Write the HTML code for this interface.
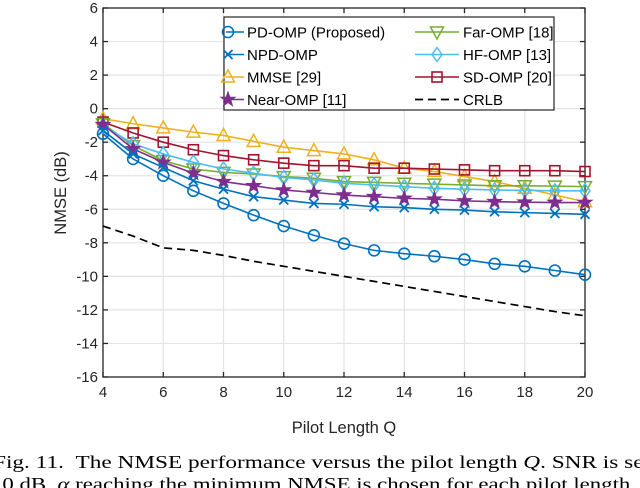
<!DOCTYPE html>
<html><head><meta charset="utf-8"><style>
html,body{margin:0;padding:0;background:#fff;width:640px;height:488px;overflow:hidden}
svg{display:block}
text{font-family:"Liberation Sans",sans-serif}
.cap{font-family:"Liberation Serif",serif;font-size:17.5px}
</style></head><body>
<svg id="chart" width="640" height="488" viewBox="0 0 640 488"></svg>
<script>
const qValues=[4,5,6,7,8,9,10,11,12,13,14,15,16,17,18,19,20];
const pdOmp=[-1.5,-3.0,-4.0,-4.9,-5.65,-6.35,-7.0,-7.55,-8.05,-8.45,-8.65,-8.8,-9.0,-9.25,-9.4,-9.65,-9.9];
const npdOmp=[-1.3,-2.7,-3.5,-4.3,-4.8,-5.25,-5.45,-5.65,-5.7,-5.85,-5.9,-6.0,-6.05,-6.15,-6.2,-6.25,-6.3];
const mmse=[-0.6,-0.9,-1.15,-1.4,-1.6,-1.95,-2.3,-2.5,-2.7,-3.05,-3.55,-3.75,-4.05,-4.35,-4.75,-5.15,-5.55];
const nearOmp=[-0.95,-2.4,-3.2,-3.85,-4.35,-4.6,-4.85,-5.0,-5.15,-5.25,-5.35,-5.4,-5.5,-5.55,-5.58,-5.6,-5.6];
const farOmp=[-0.9,-2.2,-3.1,-3.6,-3.8,-3.9,-4.05,-4.15,-4.35,-4.4,-4.45,-4.5,-4.55,-4.6,-4.6,-4.62,-4.65];
const hfOmp=[-1.0,-2.1,-2.7,-3.2,-3.6,-3.85,-4.1,-4.25,-4.45,-4.55,-4.65,-4.75,-4.8,-4.85,-4.87,-4.9,-4.9];
const sdOmp=[-0.8,-1.45,-2.0,-2.45,-2.8,-3.05,-3.25,-3.4,-3.4,-3.55,-3.55,-3.6,-3.65,-3.7,-3.7,-3.7,-3.75];
const crlb=[-7.0,-7.6,-8.3,-8.45,-8.75,-9.1,-9.4,-9.7,-10.0,-10.3,-10.6,-10.9,-11.2,-11.5,-11.8,-12.1,-12.35];
const xTicks=[4,6,8,10,12,14,16,18,20];
const yTicks=[6,4,2,0,-2,-4,-6,-8,-10,-12,-14,-16];

const NS="http://www.w3.org/2000/svg";
const svg=document.getElementById('chart');
const L=103,R=585,T=8,B=377;
const xS=q=>L+(q-4)/(20-4)*(R-L);
const yS=v=>T+(6-v)/(22)*(B-T);
function mk(tag,attrs,parent){const e=document.createElementNS(NS,tag);for(const k in attrs)e.setAttribute(k,attrs[k]);(parent||svg).appendChild(e);return e;}

const grid=mk('g',{});


xTicks.forEach(q=>mk('line',{x1:xS(q),x2:xS(q),y1:T,y2:B,stroke:'#e3e3e3','stroke-width':1.2},grid));
yTicks.forEach(v=>mk('line',{x1:L,x2:R,y1:yS(v),y2:yS(v),stroke:'#e3e3e3','stroke-width':1.2},grid));

const ax=mk('g',{});


mk('rect',{x:L,y:T,width:R-L,height:B-T,fill:'none',stroke:'#262626','stroke-width':1.3},ax);
xTicks.forEach(q=>{
  mk('line',{x1:xS(q),x2:xS(q),y1:B,y2:B-5,stroke:'#262626','stroke-width':1.3},ax);
  mk('line',{x1:xS(q),x2:xS(q),y1:T,y2:T+5,stroke:'#262626','stroke-width':1.3},ax);
  const t=mk('text',{x:xS(q),y:B+20,'text-anchor':'middle','font-size':15,fill:'#262626'},ax);t.textContent=q;
  
  
});
yTicks.forEach(v=>{
  mk('line',{x1:L,x2:L+5,y1:yS(v),y2:yS(v),stroke:'#262626','stroke-width':1.3},ax);
  mk('line',{x1:R,x2:R-5,y1:yS(v),y2:yS(v),stroke:'#262626','stroke-width':1.3},ax);
  const t=mk('text',{x:L-5,y:yS(v)+5,'text-anchor':'end','font-size':15,fill:'#262626'},ax);t.textContent=v;
  
  
});
const xt=mk('text',{x:344,y:433,'text-anchor':'middle','font-size':16.5,fill:'#262626'});xt.textContent='Pilot Length Q';


const yt=mk('text',{x:0,y:0,'text-anchor':'middle','font-size':16.5,fill:'#262626',transform:'translate(66,193) rotate(-90)'});yt.textContent='NMSE (dB)';



function marker(type,x,y,color,g){
  if(type==='o')mk('circle',{cx:x,cy:y,r:5.5,fill:'none',stroke:color,'stroke-width':1.6},g);
  else if(type==='x'){mk('path',{d:`M${x-4.5},${y-4.5}L${x+4.5},${y+4.5}M${x-4.5},${y+4.5}L${x+4.5},${y-4.5}`,stroke:color,'stroke-width':1.8},g);}
  else if(type==='^')mk('polygon',{points:`${x},${y-7} ${x-6.5},${y+5} ${x+6.5},${y+5}`,fill:'none',stroke:color,'stroke-width':1.5},g);
  else if(type==='v')mk('polygon',{points:`${x},${y+7} ${x-6.5},${y-5} ${x+6.5},${y-5}`,fill:'none',stroke:color,'stroke-width':1.5},g);
  else if(type==='d')mk('polygon',{points:`${x},${y-7} ${x-5},${y} ${x},${y+7} ${x+5},${y}`,fill:'none',stroke:color,'stroke-width':1.5},g);
  else if(type==='s')mk('rect',{x:x-5,y:y-5,width:10,height:10,fill:'none',stroke:color,'stroke-width':1.6},g);
  else if(type==='*'){let p='';for(let i=0;i<10;i++){const r=i%2?3:7.5,a=-Math.PI/2+i*Math.PI/5;p+=(x+r*Math.cos(a)).toFixed(1)+','+(y+r*Math.sin(a)).toFixed(1)+' ';}mk('polygon',{points:p,fill:color,stroke:color,'stroke-width':1},g);}
}
const series=[
 {name:'series-mmse',d:mmse,c:'#EDB120',m:'^'},
 {name:'series-sd-omp',d:sdOmp,c:'#A2142F',m:'s'},
 {name:'series-far-omp',d:farOmp,c:'#77AC30',m:'v'},
 {name:'series-hf-omp',d:hfOmp,c:'#4DBEEE',m:'d'},
 {name:'series-near-omp',d:nearOmp,c:'#7E2F8E',m:'*'},
 {name:'series-npd-omp',d:npdOmp,c:'#0072BD',m:'x'},
 {name:'series-pd-omp',d:pdOmp,c:'#0072BD',m:'o'},
];
series.forEach(s=>{
  const g=mk('g',{});
  
  
  mk('polyline',{points:s.d.map((v,i)=>xS(qValues[i])+','+yS(v)).join(' '),fill:'none',stroke:s.c,'stroke-width':1.6},g);
  s.d.forEach((v,i)=>marker(s.m,xS(qValues[i]),yS(v),s.c,g));
});
const cg=mk('g',{});


mk('polyline',{points:crlb.map((v,i)=>xS(qValues[i])+','+yS(v)).join(' '),fill:'none',stroke:'#000','stroke-width':1.7,'stroke-dasharray':'8,5'},cg);

const lg=mk('g',{});


mk('rect',{x:224,y:17,width:330,height:93,fill:'#fff',stroke:'#262626','stroke-width':1.2},lg);
const items=[
 ['PD-OMP (Proposed)','#0072BD','o',0,0],['NPD-OMP','#0072BD','x',0,1],['MMSE [29]','#EDB120','^',0,2],['Near-OMP [11]','#7E2F8E','*',0,3],
 ['Far-OMP [18]','#77AC30','v',1,0],['HF-OMP [13]','#4DBEEE','d',1,1],['SD-OMP [20]','#A2142F','s',1,2],['CRLB','#000','-',1,3]];
items.forEach(it=>{
  const g=mk('g',{},lg);
  
  
  const x0=it[3]?415:224, y=32+it[4]*22.5;
  if(it[2]==='-')mk('line',{x1:x0,x2:x0+44,y1:y,y2:y,stroke:'#000','stroke-width':1.7,'stroke-dasharray':'8,5'},g);
  else{mk('line',{x1:x0+(it[3]?0:2),x2:x0+(it[3]?44:20),y1:y,y2:y,stroke:it[1],'stroke-width':1.6},g);marker(it[2],it[3]?x0+22:x0+4,y,it[1],g);}
  const t=mk('text',{x:it[3]?463:247,y:y+5.5,'font-size':15,fill:'#000'},g);t.textContent=it[0];
});

const c1=mk('text',{x:-7,y:468,class:'cap',fill:'#000',textLength:'657',lengthAdjust:'spacingAndGlyphs'});


c1.innerHTML='Fig. 11.&#160;&#160;The NMSE performance versus the pilot length <tspan font-style="italic">Q</tspan>. SNR is set';
const c2=mk('text',{x:-9,y:490,class:'cap',fill:'#000',textLength:'645',lengthAdjust:'spacingAndGlyphs'});


c2.innerHTML='10 dB, <tspan font-style="italic">α</tspan> reaching the minimum NMSE is chosen for each pilot length.';
</script>
</body></html>
